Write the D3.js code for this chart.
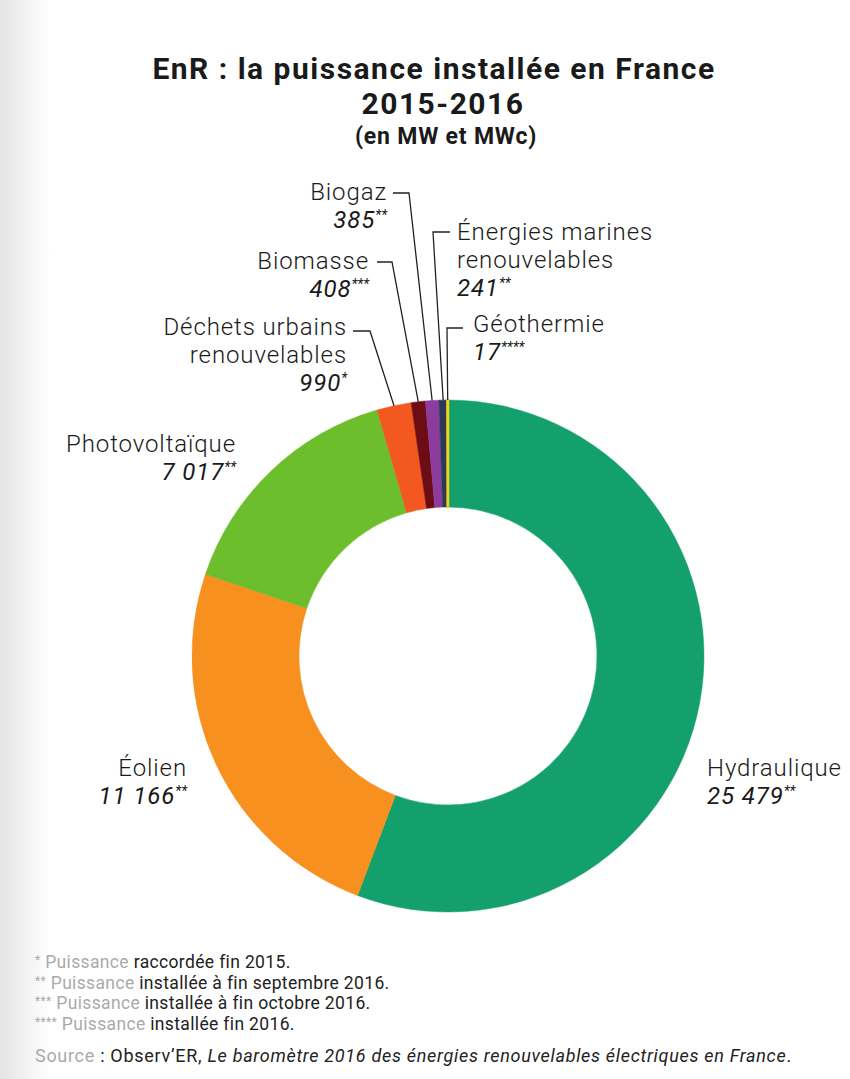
<!DOCTYPE html>
<html>
<head>
<meta charset="utf-8">
<script src="https://cdn.jsdelivr.net/npm/d3@7"></script>
<style>
  body { margin: 0; background: #fff; }
  svg { display: block; }
</style>
</head>
<body>
<svg id="chart"></svg>
<script>
// data
const categories = ["Hydraulique", "Éolien", "Photovoltaïque", "Déchets urbains renouvelables", "Biomasse", "Biogaz", "Énergies marines renouvelables", "Géothermie"]
const labelLines = [["Hydraulique"], ["Éolien"], ["Photovoltaïque"], ["Déchets urbains", "renouvelables"], ["Biomasse"], ["Biogaz"], ["Énergies marines", "renouvelables"], ["Géothermie"]]
const values = [25479, 11166, 7017, 990, 408, 385, 241, 17]
const notes = ["**", "**", "**", "*", "***", "**", "**", "****"]
const colours = ["#14a06c", "#f7901e", "#6dbe2c", "#f2581f", "#6e0c16", "#8b3c9d", "#2c3a55", "#f2d21a"]

const titleLines = ["EnR : la puissance installée en France", "2015-2016"]
const subtitle = "(en MW et MWc)"
const footnotes = [
    ["*", "Puissance", " raccordée fin 2015."],
    ["**", "Puissance", " installée à fin septembre 2016."],
    ["***", "Puissance", " installée à fin octobre 2016."],
    ["****", "Puissance", " installée fin 2016."]
]

const width = 850
const height = 1079
const cx = 448
const cy = 656
const outerR = 256
const innerR = 149

// label placement (first baseline, anchor, leader tick)
const labelPos = [
    {x: 707, y: 776, anchor: "start"},
    {x: 187, y: 776, anchor: "end"},
    {x: 236, y: 452, anchor: "end"},
    {x: 347, y: 335, anchor: "end", tick: [353, 370, 331]},
    {x: 369, y: 269, anchor: "end", tick: [377, 392, 262]},
    {x: 387, y: 200, anchor: "end", tick: [393, 409, 193]},
    {x: 457, y: 240, anchor: "start", tick: [450, 433, 232]},
    {x: 473, y: 332, anchor: "start", tick: [463, 447, 328]}
]

const frLocale = d3.formatLocale({decimal: ",", thousands: "\u00a0", grouping: [3], currency: ["", " €"]})
const fmt = frLocale.format(",d")

const data = categories.map((c, i) => ({name: c, lines: labelLines[i], value: values[i], note: notes[i], colour: colours[i], pos: labelPos[i]}))

const svg = d3.select("#chart")
    .attr("width", width)
    .attr("height", height)
    .style("font-family", "Roboto, 'Noto Sans', sans-serif")

// scanned-page shading on the left edge
const defs = svg.append("defs")
const grad = defs.append("linearGradient").attr("id", "edge").attr("x1", 0).attr("x2", 1)
grad.append("stop").attr("offset", 0).attr("stop-color", "#e4e4e4")
grad.append("stop").attr("offset", 1).attr("stop-color", "#ffffff")
svg.append("rect").attr("width", width).attr("height", height).attr("fill", "#fff")
svg.append("rect").attr("width", 50).attr("height", height).attr("fill", "url(#edge)")

// title
svg.selectAll("text.title")
    .data(titleLines)
    .enter()
    .append("text")
        .attr("class", "title")
        .attr("x", (d, i) => i ? 443 : 434)
        .attr("y", (d, i) => 79 + i * 35)
        .attr("text-anchor", "middle")
        .style("font-size", "30px")
        .style("letter-spacing", "1.5px")
        .style("font-weight", 700)
        .style("fill", "#1a1a1a")
        .text(d => d)
svg.append("text")
    .attr("x", 446)
    .attr("y", 144)
    .attr("text-anchor", "middle")
    .style("font-size", "23px")
    .style("letter-spacing", "0.8px")
    .style("font-weight", 700)
    .style("fill", "#1a1a1a")
    .text(subtitle)

// donut
const pie = d3.pie().sort(null).value(d => d.value).startAngle(0).endAngle(2 * Math.PI)
const arcs = pie(data)
const arc = d3.arc().innerRadius(innerR).outerRadius(outerR)

const g = svg.append("g").attr("transform", `translate(${cx}, ${cy})`)
g.selectAll("path")
    .data(arcs)
    .enter()
    .append("path")
        .attr("d", arc)
        .attr("fill", d => d.data.colour)
        .attr("stroke", d => d.data.colour)
        .attr("stroke-width", d => d.data.value < 100 ? 2.5 : 0.5)

// leader lines for the thin slices
const edgePoint = (a) => [cx + outerR * Math.sin(a), cy - outerR * Math.cos(a)]
svg.selectAll("polyline.leader")
    .data(arcs.filter(d => d.data.pos.tick))
    .enter()
    .append("polyline")
        .attr("class", "leader")
        .attr("fill", "none")
        .attr("stroke", "#222")
        .attr("stroke-width", 1.3)
        .attr("points", d => {
            const t = d.data.pos.tick
            const p = edgePoint((d.startAngle + d.endAngle) / 2)
            return [[t[0], t[2]], [t[1], t[2]], p].map(q => q.join(",")).join(" ")
        })

// labels: name lines then the value
const lh = 28.2
const labels = svg.selectAll("g.label")
    .data(data)
    .enter()
    .append("g")
        .attr("class", "label")
        .style("font-size", "24px")
        .style("letter-spacing", "0.9px")
        .style("fill", "#1a1a1a")

labels.each(function(d) {
    const el = d3.select(this)
    d.lines.forEach((line, i) => {
        el.append("text")
            .attr("x", d.pos.x)
            .attr("y", d.pos.y + i * lh)
            .attr("text-anchor", d.pos.anchor)
            .style("font-weight", 300)
            .text(line)
    })
    const v = el.append("text")
        .attr("x", d.pos.x)
        .attr("y", d.pos.y + d.lines.length * lh)
        .attr("text-anchor", d.pos.anchor)
        .style("font-style", "italic")
        .style("font-weight", 400)
    v.append("tspan").text(fmt(d.value))
    v.append("tspan")
        .attr("dy", -8)
        .style("font-size", "14px")
        .style("letter-spacing", "0px")
        .text(d.note)
})

// footnotes
const fn = svg.selectAll("text.fn")
    .data(footnotes)
    .enter()
    .append("text")
        .attr("class", "fn")
        .attr("x", 35)
        .attr("y", (d, i) => 968 + i * 20.7)
        .style("font-size", "17.5px")
        .style("letter-spacing", "0.35px")
        .style("fill", "#222")
fn.append("tspan").attr("dy", -4).style("font-size", "12px").style("fill", "#aaa").text(d => d[0])
fn.append("tspan").attr("dy", 4).style("fill", "#aaa").text(d => " " + d[1])
fn.append("tspan").text(d => d[2])

const src = svg.append("text")
    .attr("x", 35)
    .attr("y", 1062)
    .style("font-size", "18px")
    .style("letter-spacing", "0.7px")
    .style("fill", "#222")
src.append("tspan").style("fill", "#aaa").text("Source")
src.append("tspan").text(" : Observ’ER, ")
src.append("tspan").style("font-style", "italic").text("Le baromètre 2016 des énergies renouvelables électriques en France")
src.append("tspan").text(".")
</script>
</body>
</html>
